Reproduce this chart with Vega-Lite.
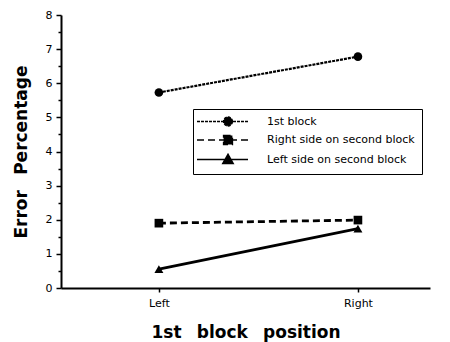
{
  "$schema": "https://vega.github.io/schema/vega-lite/v6.json",
  "width": 369,
  "height": 273,
  "autosize": "none",
  "padding": {"left": 61, "top": 15, "right": 20, "bottom": 54},
  "background": "white",
  "data": {
    "values": [
      {"series": "1st block", "position": "Left", "error": 5.73},
      {"series": "1st block", "position": "Right", "error": 6.78},
      {"series": "Right side on second block", "position": "Left", "error": 1.9},
      {"series": "Right side on second block", "position": "Right", "error": 1.99},
      {"series": "Left side on second block", "position": "Left", "error": 0.55},
      {"series": "Left side on second block", "position": "Right", "error": 1.74}
    ]
  },
  "config": {
    "view": {"stroke": null},
    "axis": {
      "domainColor": "black",
      "domainWidth": 2,
      "tickColor": "black",
      "tickWidth": 1.5,
      "grid": false,
      "labelFont": "DejaVu Sans",
      "labelFontSize": 11,
      "labelColor": "black",
      "titleFont": "DejaVu Sans",
      "titleFontWeight": "bold",
      "titleFontSize": 17,
      "titleColor": "black"
    }
  },
  "encoding": {
    "x": {
      "field": "position",
      "type": "ordinal",
      "scale": {"type": "point", "padding": 0.427, "align": 0.576},
      "axis": {
        "title": "1st\u00a0\u00a0\u2009block\u00a0\u00a0\u2009position",
        "labelAngle": 0,
        "tickSize": 4,
        "labelPadding": 5,
        "titlePadding": 16
      }
    },
    "y": {
      "field": "error",
      "type": "quantitative",
      "scale": {"domain": [0, 8], "nice": false, "zero": true},
      "axis": {
        "title": "Error\u00a0\u00a0\u2009Percentage",
        "values": [0, 0.5, 1, 1.5, 2, 2.5, 3, 3.5, 4, 4.5, 5, 5.5, 6, 6.5, 7, 7.5, 8],
        "labelExpr": "datum.value % 1 === 0 ? format(datum.value, 'd') : ''",
        "tickSize": {"condition": {"test": "datum.value % 1 === 0", "value": 5}, "value": 3},
        "labelPadding": 4,
        "titlePadding": 15
      }
    }
  },
  "layer": [
    {
      "transform": [{"filter": "datum.series === '1st block'"}],
      "mark": {"type": "line", "color": "black", "strokeDash": [3, 1], "strokeWidth": 2.2},
      "encoding": {}
    },
    {
      "transform": [{"filter": "datum.series === 'Right side on second block'"}],
      "mark": {"type": "line", "color": "black", "strokeDash": [7, 4], "strokeWidth": 2.8},
      "encoding": {}
    },
    {
      "transform": [{"filter": "datum.series === 'Left side on second block'"}],
      "mark": {"type": "line", "color": "black", "strokeWidth": 2.8},
      "encoding": {}
    },
    {
      "transform": [{"filter": "datum.series === '1st block'"}],
      "mark": {"type": "point", "shape": "circle", "filled": true, "color": "black", "opacity": 1, "size": 75}
    },
    {
      "transform": [{"filter": "datum.series === 'Right side on second block'"}],
      "mark": {"type": "point", "shape": "square", "filled": true, "color": "black", "opacity": 1, "size": 75}
    },
    {
      "transform": [{"filter": "datum.series === 'Left side on second block'"}],
      "mark": {"type": "point", "shape": "triangle-up", "filled": true, "color": "black", "opacity": 1, "size": 80}
    },
    {
      "transform": [{"filter": "false"}],
      "mark": {"type": "point", "filled": true, "color": "black", "fill": "black", "stroke": "black", "strokeWidth": 2.5, "opacity": 1},
      "encoding": {
        "strokeDash": {
          "field": "series",
          "type": "nominal",
          "scale": {
            "domain": ["1st block", "Right side on second block", "Left side on second block"],
            "range": [[3, 1], [7, 4], [1, 0]]
          },
          "legend": {
            "title": null,
            "orient": "none",
            "legendX": 132,
            "legendY": 94,
            "strokeColor": "black",
            "fillColor": "white",
            "padding": 7,
            "labelFont": "DejaVu Sans",
            "labelFontSize": 11,
            "labelColor": "black",
            "symbolSize": 64,
            "symbolOffset": 22.5,
            "labelOffset": 33.5,
            "rowPadding": 3.5,
            "labelLimit": 300
          }
        },
        "shape": {
          "field": "series",
          "type": "nominal",
          "scale": {
            "domain": ["1st block", "Right side on second block", "Left side on second block"],
            "range": [
              "M-7.75,0H5M1.1,0A1.1,1.1,0,1,1,-1.1,0A1.1,1.1,0,1,1,1.1,0Z",
              "M-7.75,0H5M-1.1,-1.1H1.1V1.1H-1.1Z",
              "M-7.75,0H5M0,-1.3L1.3,1L-1.3,1Z"
            ]
          },
          "legend": {
            "title": null,
            "orient": "none",
            "legendX": 132,
            "legendY": 94,
            "strokeColor": "black",
            "fillColor": "white",
            "padding": 7,
            "labelFont": "DejaVu Sans",
            "labelFontSize": 11,
            "labelColor": "black",
            "symbolSize": 64,
            "symbolOffset": 22.5,
            "labelOffset": 33.5,
            "rowPadding": 3.5,
            "labelLimit": 300
          }
        }
      }
    }
  ]
}
